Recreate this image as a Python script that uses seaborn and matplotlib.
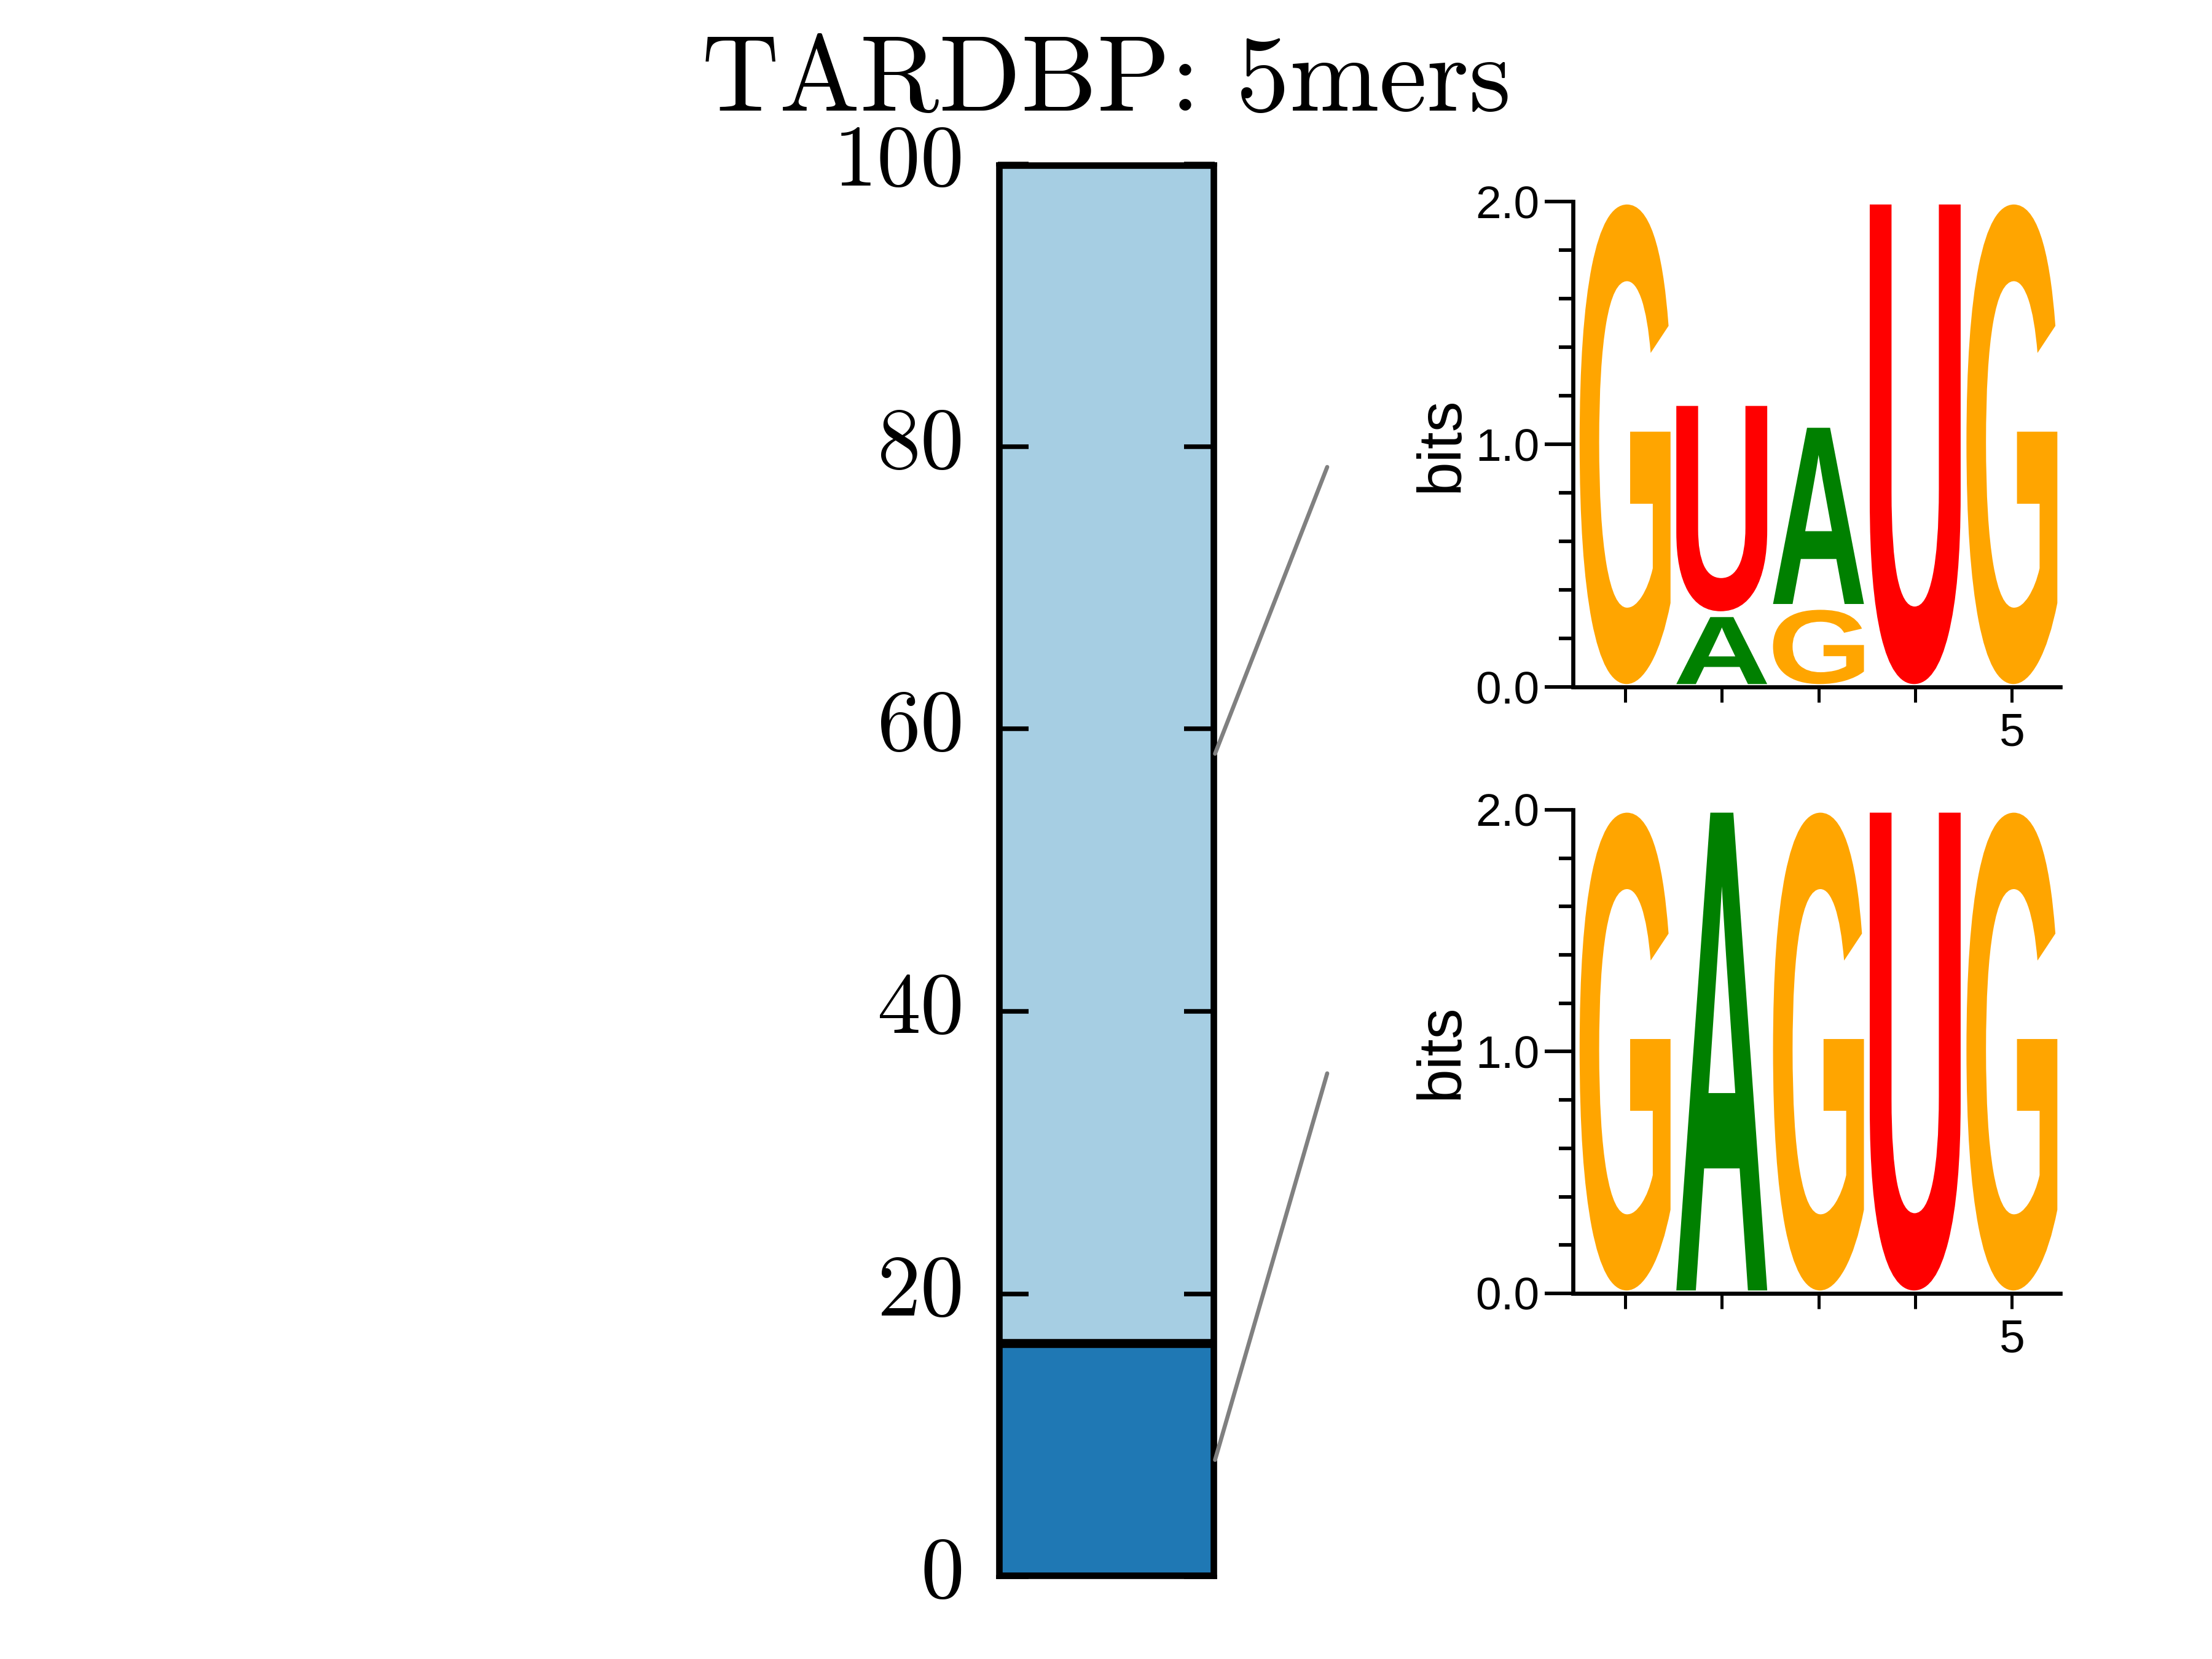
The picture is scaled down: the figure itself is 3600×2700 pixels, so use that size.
import numpy as np
import seaborn as sns
import matplotlib.pyplot as plt
import matplotlib.transforms as mtransforms
from matplotlib.textpath import TextPath
from matplotlib.patches import PathPatch, ConnectionPatch
from matplotlib.font_manager import FontProperties

# stacked bar: share of 5mers in each cluster (%)
segments = [16.5, 83.5]
seg_colors = sns.color_palette("Paired")[:2][::-1]  # dark blue, light blue
bar_ticks = [0, 20, 40, 60, 80, 100]

# sequence logos, letters listed bottom -> top for each position
positions = [1, 2, 3, 4, 5]
top_letters = [['G'], ['A', 'U'], ['G', 'A'], ['U'], ['G']]
top_bits = [[2.0], [0.30, 0.87], [0.33, 0.75], [2.0], [2.0]]
bottom_letters = [['G'], ['A'], ['G'], ['U'], ['G']]
bottom_bits = [[2.0], [2.0], [2.0], [2.0], [2.0]]
base_colors = {'A': '#008000', 'C': '#0000ff', 'G': '#ffa500', 'U': '#ff0000'}

sns.set_style("ticks")
plt.rcParams['font.family'] = 'serif'
plt.rcParams['font.serif'] = ['cmr10']
plt.rcParams['axes.formatter.use_mathtext'] = True
plt.rcParams['mathtext.fontset'] = 'cm'
for k in ['text.color', 'axes.labelcolor', 'xtick.color', 'ytick.color', 'axes.edgecolor']:
    plt.rcParams[k] = 'black'

fig = plt.figure(figsize=(12, 9), dpi=300)

# ---- bar
ax = fig.add_axes([0.451, 0.0498, 0.0983, 0.8513])
cum = np.cumsum(segments)
# draw from the top segment down so the lower one sits on top
for top, col in zip(cum[::-1], seg_colors[::-1]):
    sns.barplot(x=['all'], y=[top], color=col, width=1, saturation=1,
                edgecolor='black', linewidth=3.5, ax=ax)
ax.set_axisbelow(False)  # ticks drawn over the bar
ax.set_xlim(-0.5, 0.5)
ax.set_ylim(0, 100)
ax.set_yticks(bar_ticks)
ax.set_xticks([])
ax.set_xlabel('')
ax.set_ylabel('')
for s in ax.spines.values():
    s.set_linewidth(1.6)
ax.tick_params(axis='y', direction='in', left=True, right=True, length=12, width=1.8,
               labelsize=34, pad=14)
# nudge cm labels up so they sit centred on their ticks
lift = mtransforms.ScaledTranslation(0, 3.5 / 72, fig.dpi_scale_trans)
for lab in ax.get_yticklabels():
    lab.set_transform(lab.get_transform() + lift)
ax.set_title('TARDBP: 5mers', fontsize=42, pad=21)

sans = FontProperties(family='Liberation Sans', weight='bold')


def draw_letter(lax, ch, x, y0, h, width=0.94, margin=0.012):
    tp = TextPath((0, 0), ch, size=1, prop=sans)
    bb = tp.get_extents()
    tr = (mtransforms.Affine2D()
          .translate(-bb.x0, -bb.y0)
          .scale(width / bb.width, (h - 2 * margin) / bb.height)
          .translate(x - width / 2, y0 + margin))
    lax.add_patch(PathPatch(tr.transform_path(tp), fc=base_colors[ch], ec='none'))


def draw_logo(rect, letters, bits):
    lax = fig.add_axes(rect)
    for x, lets, hs in zip(positions, letters, bits):
        y0 = 0
        for ch, h in zip(lets, hs):
            draw_letter(lax, ch, x, y0, h)
            y0 += h
    lax.set_xlim(0.5, 5.5)
    lax.set_ylim(0, 2)
    lax.spines[['top', 'right']].set_visible(False)
    lax.spines['left'].set_position(('outward', 1.5))
    for s in lax.spines.values():
        s.set_linewidth(1.6)
    lax.set_yticks([0, 1, 2])
    lax.set_yticklabels(['0.0', '1.0', '2.0'], family='Liberation Sans')
    lax.set_yticks(np.arange(0, 2.01, 0.2), minor=True)
    lax.set_xticks(positions)
    lax.set_xticklabels(['', '', '', '', '5'], family='Liberation Sans')
    lax.tick_params(axis='y', which='major', direction='out', length=11, width=1.4,
                    labelsize=18, pad=2)
    lax.tick_params(axis='y', which='minor', direction='out', length=5.5, width=1.4)
    lax.tick_params(axis='x', direction='out', length=6, width=1.2, labelsize=18, pad=4)
    lax.set_ylabel('bits', family='Liberation Sans', fontsize=24, labelpad=2)
    return lax


draw_logo([0.7128, 0.5859, 0.2186, 0.2926], top_letters, top_bits)
draw_logo([0.7128, 0.2204, 0.2186, 0.2915], bottom_letters, bottom_bits)

# connectors from the middle of each segment to its logo
mids = cum - np.array(segments) / 2
ends = [(0.6, 0.353), (0.6, 0.7185)]
for m, e in zip(mids, ends):
    con = ConnectionPatch(xyA=(0.5, m), coordsA=ax.transData, xyB=e,
                          coordsB=fig.transFigure, color='#808080', lw=1.6)
    fig.add_artist(con)

fig.savefig('out.png', dpi=300)
